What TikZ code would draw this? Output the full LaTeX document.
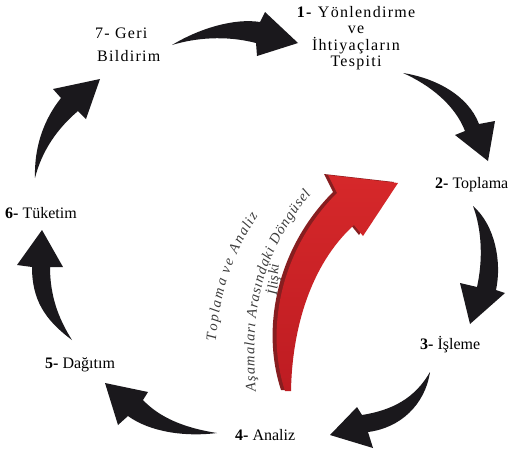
\documentclass[tikz,border=0pt]{standalone}
\usepackage{fontspec}
\setmainfont{Liberation Serif}
\usetikzlibrary{decorations.text}
\definecolor{arrowblack}{RGB}{26,24,28}
\definecolor{cyclered}{RGB}{190,28,34}
\definecolor{cycleredtop}{RGB}{214,40,42}
\definecolor{cycleredside}{RGB}{135,30,32}
\definecolor{arctext}{RGB}{60,60,60}

\begin{document}
\begin{tikzpicture}[x=1pt,y=-1pt,
        lbl/.style={inner sep=0pt, font=\fontsize{16}{16.5}\selectfont},
        wide/.style={font=\fontsize{16}{#1}\selectfont\addfontfeatures{LetterSpace=8}},
        blk/.style={fill=arrowblack},
        arcline/.style={decorate, decoration={text effects along path, text={#1},
                text effects/.cd, text along path, fit text to path,
                characters={text=arctext, font=\fontsize{14.5}{15}\selectfont\itshape}}}
    ]
    \useasboundingbox (0,0) rectangle (508,448);

    % stage labels
    \node[lbl, wide=16.5, align=center, anchor=north] (s1) at (356,6) {\textbf{1-}\ Yönlendirme\\ve\\İhtiyaçların\\Tespiti};
    \node[lbl, anchor=base west] (s2) at (435,188) {\textbf{2-} Toplama};
    \node[lbl, anchor=base west] (s3) at (420,349) {\textbf{3-} İşleme};
    \node[lbl, anchor=base west] (s4) at (235,440) {\textbf{4-} Analiz};
    \node[lbl, anchor=base west] (s5) at (45,368) {\textbf{5-} Dağıtım};
    \node[lbl, anchor=base west] (s6) at (5,218) {\textbf{6-} Tüketim};
    \node[lbl, wide=23, align=left, anchor=north west] (s7) at (95,28) {7- Geri\\\hspace*{2pt}Bildirim};

    % black cycle arrows
    \fill[blk] (172,45) .. controls (200,28) and (235,18) .. (260,22) -- (265,12) -- (298,43) -- (257,56) -- (256,43) .. controls (225,35) and (195,38) .. (172,45);
    \fill[blk] (403,73) .. controls (435,78) and (468,95) .. (479,124) -- (495,121) -- (488,161) -- (455,135) -- (465,131) .. controls (455,105) and (430,85) .. (403,73);
    \fill[blk] (473,206) .. controls (495,225) and (502,262) .. (496,290) -- (505,293) -- (470,324) -- (460,283) -- (477,287) .. controls (483,260) and (482,230) .. (473,206);
    \fill[blk] (430,372) .. controls (415,398) and (393,410) .. (362,415) -- (357,407) -- (330,435) -- (373,448) -- (368,432) .. controls (400,428) and (425,405) .. (430,372);
    \fill[blk] (217,433) .. controls (185,428) and (160,418) .. (143,400) -- (148,392) -- (105,383) -- (118,425) -- (128,416) .. controls (150,432) and (185,437) .. (217,433);
    \fill[blk] (72,340) .. controls (58,318) and (50,295) .. (50,267) -- (63,267) -- (42,230) -- (17,265) -- (32,267) .. controls (32,300) and (45,320) .. (72,340);
    \fill[blk] (35,178) .. controls (34,145) and (45,118) .. (61,98) -- (53,89) -- (100,79) -- (86,119) -- (78,111) .. controls (58,128) and (42,150) .. (35,178);

    % red arrow, side then face
    \fill[cycleredside, xshift=-4pt, yshift=1pt] (285,391) .. controls (265,330) and (280,250) .. (337,193) -- (328,175) -- (398,183) -- (363,236) -- (354,225) .. controls (310,265) and (292,330) .. (291,391) -- cycle;
    \shade[top color=cycleredtop, bottom color=cyclered] (285,391) .. controls (265,330) and (280,250) .. (337,193) -- (328,175) -- (398,183) -- (363,236) -- (354,225) .. controls (310,265) and (292,330) .. (291,391) -- cycle;

    % curved caption
    \path[arcline={Toplama ve Analiz}] (216,341) .. controls (219,295) and (232,255) .. (258,216);
    \path[arcline={Aşamaları Arasındaki Döngüsel}] (256,391) .. controls (250,315) and (258,258) .. (311,194);
    \path[arcline={İlişki}] (277,295) .. controls (278,285) and (278,274) .. (279,264);
\end{tikzpicture}
\end{document}
